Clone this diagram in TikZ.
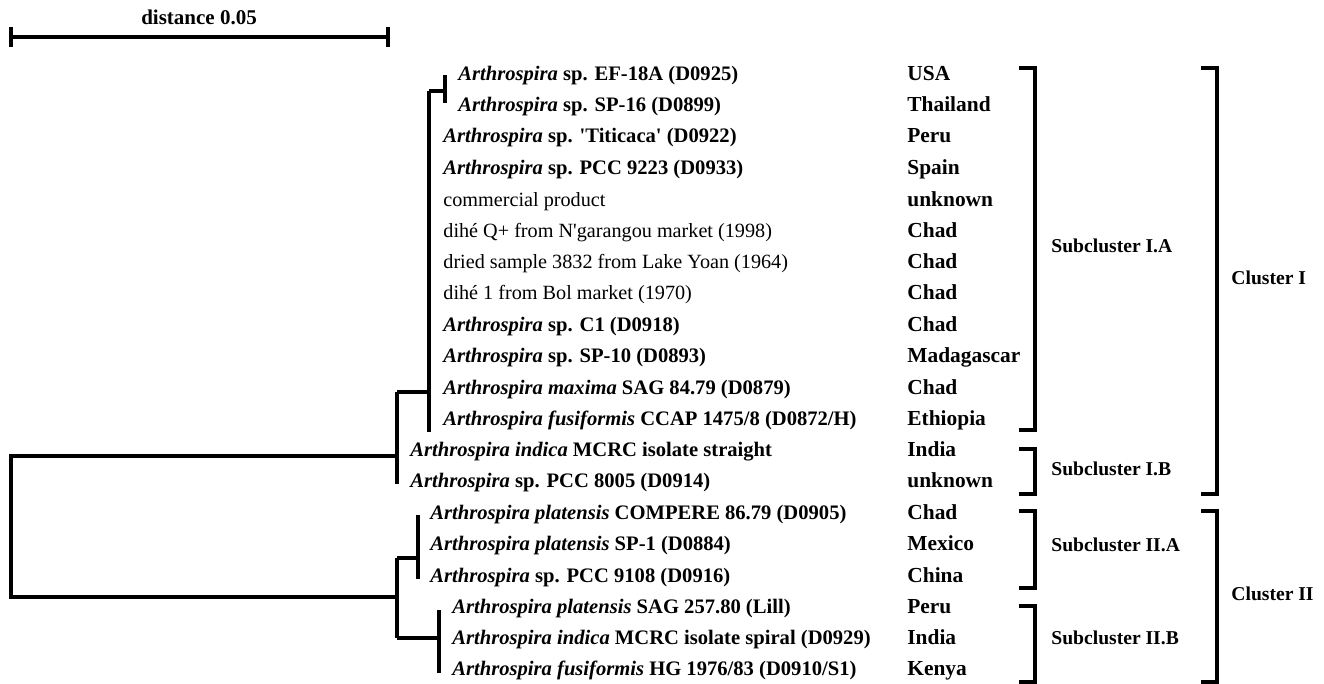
\documentclass[tikz,border=0pt]{standalone}
\usepackage{fontspec}
\setmainfont{Liberation Serif}
\usepackage{tikz}
\usetikzlibrary{positioning, calc}
\newcommand{\gen}[1]{\textbf{\textit{#1}}}

\begin{document}
\begin{tikzpicture}[
        x=0.5pt, y=-0.5pt,
        every node/.style={inner sep=0pt},
        taxon/.style={anchor=mid west, font=\fontsize{10.3}{12}\selectfont\bfseries},
        sample/.style={anchor=mid west, font=\fontsize{10.1}{12}\selectfont},
        origin/.style={anchor=mid west, font=\fontsize{10.7}{12}\selectfont\bfseries},
        group/.style={anchor=mid west, font=\fontsize{9.8}{12}\selectfont\bfseries},
        branch/.style={line width=1.6pt},
        bracket/.style={line width=1.6pt}
    ]
        \useasboundingbox (0,0) rectangle (1324,684);

        % Scale bar
        \node[font=\fontsize{10.5}{12}\selectfont\bfseries] (scale) at (199,17) {distance 0.05};
        \coordinate (sl) at (11,37);
        \coordinate (sr) at (388,37);
        \draw[branch] (sl) -- (sr);
        \draw[branch] ($(sl)+(0,-10)$) -- ($(sl)+(0,10)$);
        \draw[branch] ($(sr)+(0,-10)$) -- ($(sr)+(0,10)$);

        % Taxa
        \node[taxon] (t1) at (458,76) {\gen{Arthrospira} sp. EF-18A (D0925)};
        \node[taxon] (t2) at (458,107) {\gen{Arthrospira} sp. SP-16 (D0899)};
        \node[taxon] (t3) at (443,138) {\gen{Arthrospira} sp. \textquotesingle Titicaca\textquotesingle\ (D0922)};
        \node[taxon] (t4) at (443,170) {\gen{Arthrospira} sp. PCC 9223 (D0933)};
        \node[sample] (t5) at (443,202) {commercial product};
        \node[sample] (t6) at (443,233) {dihé Q+ from N\textquotesingle garangou market (1998)};
        \node[sample] (t7) at (443,264) {dried sample 3832 from Lake Yoan (1964)};
        \node[sample] (t8) at (443,295) {dihé 1 from Bol market (1970)};
        \node[taxon] (t9) at (443,327) {\gen{Arthrospira} sp. C1 (D0918)};
        \node[taxon] (t10) at (443,358) {\gen{Arthrospira} sp. SP-10 (D0893)};
        \node[taxon] (t11) at (443,390) {\gen{Arthrospira maxima} SAG 84.79 (D0879)};
        \node[taxon] (t12) at (443,421) {\gen{Arthrospira fusiformis} CCAP 1475/8 (D0872/H)};
        \node[taxon] (t13) at (410,452) {\gen{Arthrospira indica} MCRC isolate straight};
        \node[taxon] (t14) at (410,483) {\gen{Arthrospira} sp. PCC 8005 (D0914)};
        \node[taxon] (t15) at (430,515) {\gen{Arthrospira platensis} COMPERE 86.79 (D0905)};
        \node[taxon] (t16) at (430,546) {\gen{Arthrospira platensis} SP-1 (D0884)};
        \node[taxon] (t17) at (430,578) {\gen{Arthrospira} sp. PCC 9108 (D0916)};
        \node[taxon] (t18) at (452,609) {\gen{Arthrospira platensis} SAG 257.80 (Lill)};
        \node[taxon] (t19) at (452,640) {\gen{Arthrospira indica} MCRC isolate spiral (D0929)};
        \node[taxon] (t20) at (452,671) {\gen{Arthrospira fusiformis} HG 1976/83 (D0910/S1)};

        % Origins
        \node[origin] (o1) at (907,76) {USA};
        \node[origin] (o2) at (907,107) {Thailand};
        \node[origin] (o3) at (907,138) {Peru};
        \node[origin] (o4) at (907,170) {Spain};
        \node[origin] (o5) at (907,202) {unknown};
        \node[origin] (o6) at (907,233) {Chad};
        \node[origin] (o7) at (907,264) {Chad};
        \node[origin] (o8) at (907,295) {Chad};
        \node[origin] (o9) at (907,327) {Chad};
        \node[origin] (o10) at (907,358) {Madagascar};
        \node[origin] (o11) at (907,390) {Chad};
        \node[origin] (o12) at (907,421) {Ethiopia};
        \node[origin] (o13) at (907,452) {India};
        \node[origin] (o14) at (907,483) {unknown};
        \node[origin] (o15) at (907,515) {Chad};
        \node[origin] (o16) at (907,546) {Mexico};
        \node[origin] (o17) at (907,578) {China};
        \node[origin] (o18) at (907,609) {Peru};
        \node[origin] (o19) at (907,640) {India};
        \node[origin] (o20) at (907,671) {Kenya};

        % Tree
        \coordinate (root1) at (11,456);
        \coordinate (root2) at (11,597);
        \coordinate (cI) at (397,456);
        \coordinate (cII) at (397,597);
        \coordinate (sIA) at (429,392);
        \coordinate (tipA) at (445,91);
        \coordinate (sIIA) at (418,558);
        \coordinate (sIIB) at (439,638);
        \draw[branch] (cI) -- (root1) -- (root2) -- (cII);
        \draw[branch] (397,392) -- (397,484);
        \draw[branch] (397,392) -- (sIA);
        \draw[branch] (429,91) -- (429,432);
        \draw[branch] (429,91) -- (tipA);
        \draw[branch] (445,75) -- (445,103);
        \draw[branch] (397,558) -- (397,638);
        \draw[branch] (397,558) -- (sIIA);
        \draw[branch] (418,515) -- (418,579);
        \draw[branch] (397,638) -- (sIIB);
        \draw[branch] (439,610) -- (439,673);

        % Subclusters
        \draw[bracket] (1019,68) -- (1035,68) -- (1035,430) -- (1019,430);
        \draw[bracket] (1019,449) -- (1035,449) -- (1035,494) -- (1019,494);
        \draw[bracket] (1019,511) -- (1035,511) -- (1035,588) -- (1019,588);
        \draw[bracket] (1019,606) -- (1035,606) -- (1035,682) -- (1019,682);
        \node[group] (gIA) at (1051,248) {Subcluster I.A};
        \node[group] (gIB) at (1051,471) {Subcluster I.B};
        \node[group] (gIIA) at (1051,547) {Subcluster II.A};
        \node[group] (gIIB) at (1051,640) {Subcluster II.B};

        % Clusters
        \draw[bracket] (1201,68) -- (1217,68) -- (1217,494) -- (1201,494);
        \draw[bracket] (1201,511) -- (1217,511) -- (1217,682) -- (1201,682);
        \node[group] (gI) at (1231,280) {Cluster I};
        \node[group] (gII) at (1231,596) {Cluster II};
\end{tikzpicture}
\end{document}
